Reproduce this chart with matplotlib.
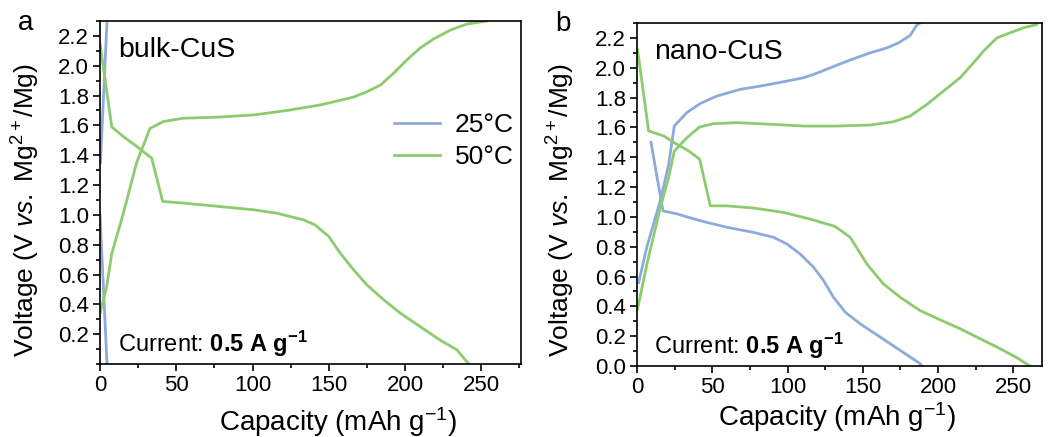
import numpy as np
import matplotlib
matplotlib.use("Agg")
import matplotlib.pyplot as plt
from matplotlib.ticker import MultipleLocator, FormatStrFormatter

plt.rcParams['font.family'] = ['Liberation Sans', 'DejaVu Sans']
plt.rcParams['mathtext.fontset'] = 'custom'
plt.rcParams['mathtext.rm'] = 'Liberation Sans'
plt.rcParams['mathtext.it'] = 'Liberation Sans:italic'
plt.rcParams['mathtext.bf'] = 'Liberation Sans:bold'

# colores
c25 = '#8eaadc'
c50 = '#8ccb6e'

# ---- Panel a: bulk-CuS ----
a25_ch_x = [0.3, 4.6]
a25_ch_y = [1.35, 2.30]
a25_dis_x = [0.0, 4.6]
a25_dis_y = [1.00, 0.00]

a50_dis_x = [0, 7.7, 15.3, 24, 33.9, 41.1, 50.3, 74.4, 100.7, 116, 133.5, 141, 150,
             157.5, 166.3, 175, 186, 197, 210, 223, 234, 241.8]
a50_dis_y = [2.15, 1.59, 1.525, 1.46, 1.38, 1.09, 1.083, 1.06, 1.034, 1.011, 0.966,
             0.933, 0.855, 0.743, 0.631, 0.53, 0.43, 0.34, 0.25, 0.16, 0.095, 0.0]
a50_ch_x = [0, 2.2, 4.4, 7.7, 15.3, 24, 32.8, 41.6, 54.7, 76.6, 100.7, 122.5, 144.4,
            166.3, 175, 183.8, 192.5, 201.3, 210, 218.8, 229.8, 240.7, 253.8]
a50_ch_y = [0.34, 0.43, 0.52, 0.74, 1.01, 1.35, 1.58, 1.626, 1.648, 1.655, 1.67, 1.70,
            1.737, 1.79, 1.826, 1.87, 1.95, 2.04, 2.12, 2.18, 2.24, 2.28, 2.30]

# ---- Panel b: nano-CuS ----
b25_dis_x = [9.3, 12.2, 17.3, 26.5, 42, 59.7, 77.4, 90.7, 99.6, 108.4, 117.3, 123.9,
             130.5, 138.3, 148.2, 161.5, 174.8, 188, 189]
b25_dis_y = [1.50, 1.33, 1.04, 1.02, 0.974, 0.93, 0.896, 0.863, 0.818, 0.751, 0.662,
             0.573, 0.461, 0.361, 0.283, 0.194, 0.105, 0.016, 0.0]
b25_ch_x = [1.1, 6.6, 15.5, 21, 24.8, 33.2, 42, 53, 68.6, 81.9, 97.3, 110.6, 117.3,
            126, 135, 143.8, 154.9, 166, 173.7, 181.4, 185.8, 188]
b25_ch_y = [0.56, 0.80, 1.11, 1.35, 1.61, 1.70, 1.76, 1.81, 1.855, 1.877, 1.906, 1.933,
            1.955, 1.99, 2.026, 2.06, 2.10, 2.133, 2.167, 2.216, 2.285, 2.30]

b50_dis_x = [0.4, 7.7, 17.7, 26.5, 34.3, 41.6, 48.7, 59.7, 77.4, 97.3, 115, 131.6,
             141.6, 152.7, 163.7, 174.8, 188, 201.3, 214.6, 227.9, 241.2, 252.2, 261]
b50_dis_y = [2.12, 1.576, 1.543, 1.487, 1.442, 1.387, 1.074, 1.074, 1.059, 1.03, 0.985,
             0.936, 0.863, 0.684, 0.55, 0.461, 0.372, 0.31, 0.25, 0.183, 0.116, 0.056, 0.0]
b50_ch_x = [0.4, 6.6, 15.5, 21, 24.8, 33.2, 41.6, 50.9, 66.4, 88.5, 110.6, 132.7,
            154.9, 170.4, 181.4, 192.5, 203.5, 214.6, 223.5, 230.1, 239, 247.8, 256.6, 265.5]
b50_ch_y = [0.383, 0.684, 1.063, 1.264, 1.442, 1.531, 1.603, 1.625, 1.632, 1.621, 1.609,
            1.609, 1.616, 1.638, 1.676, 1.754, 1.843, 1.933, 2.033, 2.111, 2.2, 2.234,
            2.267, 2.29]

w, h = 10.58, 4.37
fig = plt.figure(figsize=(w, h), dpi=100)
axA = fig.add_axes([100/1058, 1-364/437, 421/1058, 343/437])
axB = fig.add_axes([637/1058, 1-366/437, 405/1058, 343/437])

lw = 2.0
axA.plot(a25_ch_x, a25_ch_y, color=c25, lw=lw, label='25°C')
axA.plot(a25_dis_x, a25_dis_y, color=c25, lw=lw)
axA.plot(a50_ch_x, a50_ch_y, color=c50, lw=lw, label='50°C')
axA.plot(a50_dis_x, a50_dis_y, color=c50, lw=lw)

axB.plot(b25_ch_x, b25_ch_y, color=c25, lw=lw)
axB.plot(b25_dis_x, b25_dis_y, color=c25, lw=lw)
axB.plot(b50_ch_x, b50_ch_y, color=c50, lw=lw)
axB.plot(b50_dis_x, b50_dis_y, color=c50, lw=lw)

ylab = r'Voltage (V $\mathit{vs.}$ Mg$^{2+}$/Mg)'
xlab = r'Capacity (mAh g$^{-1}$)'
cur = r'Current: $\mathbf{0.5\ A\ g^{-1}}$'

# ajustes por panel: xmax, nombre, posición de etiquetas
conf = [(axA, 276, 'bulk-CuS', (0.565, -0.12), (-0.138, 0.449)),
        (axB, 269, 'nano-CuS', (0.494, -0.10), (-0.148, 0.455))]
for ax, xmax, name, xlc, ylc in conf:
    ax.set_xlim(0, xmax)
    ax.set_ylim(0, 2.3)
    ax.xaxis.set_major_locator(MultipleLocator(50))
    ax.xaxis.set_minor_locator(MultipleLocator(25))
    ax.yaxis.set_major_locator(MultipleLocator(0.2))
    ax.yaxis.set_minor_locator(MultipleLocator(0.1))
    ax.yaxis.set_major_formatter(FormatStrFormatter('%.1f'))
    ax.tick_params(which='both', direction='out', labelsize=16, width=1.2, pad=3)
    ax.tick_params(which='major', length=5)
    ax.tick_params(which='minor', length=3)
    for s in ax.spines.values():
        s.set_linewidth(1.2)
    ax.set_xlabel(xlab, fontsize=20)
    ax.set_ylabel(ylab, fontsize=19)
    ax.xaxis.set_label_coords(*xlc)
    ax.yaxis.set_label_coords(*ylc)
    ax.text(0.043, 0.915, name, transform=ax.transAxes, fontsize=20.5, va='center')
    ax.text(0.043, 0.06, cur, transform=ax.transAxes, fontsize=17, va='center')

# en el panel a no aparece la etiqueta 0.0
axA.set_yticks(np.arange(0.2, 2.3, 0.2))

axA.legend(loc='upper left', bbox_to_anchor=(0.667, 0.77), frameon=False, fontsize=19,
           handlelength=1.75, handletextpad=0.55, labelspacing=0.3, borderpad=0)

fig.text(18/1058, 1-30/437, 'a', fontsize=20, va='baseline')
fig.text(555/1058, 1-31/437, 'b', fontsize=20, va='baseline')

fig.savefig('out.png', dpi=100)
